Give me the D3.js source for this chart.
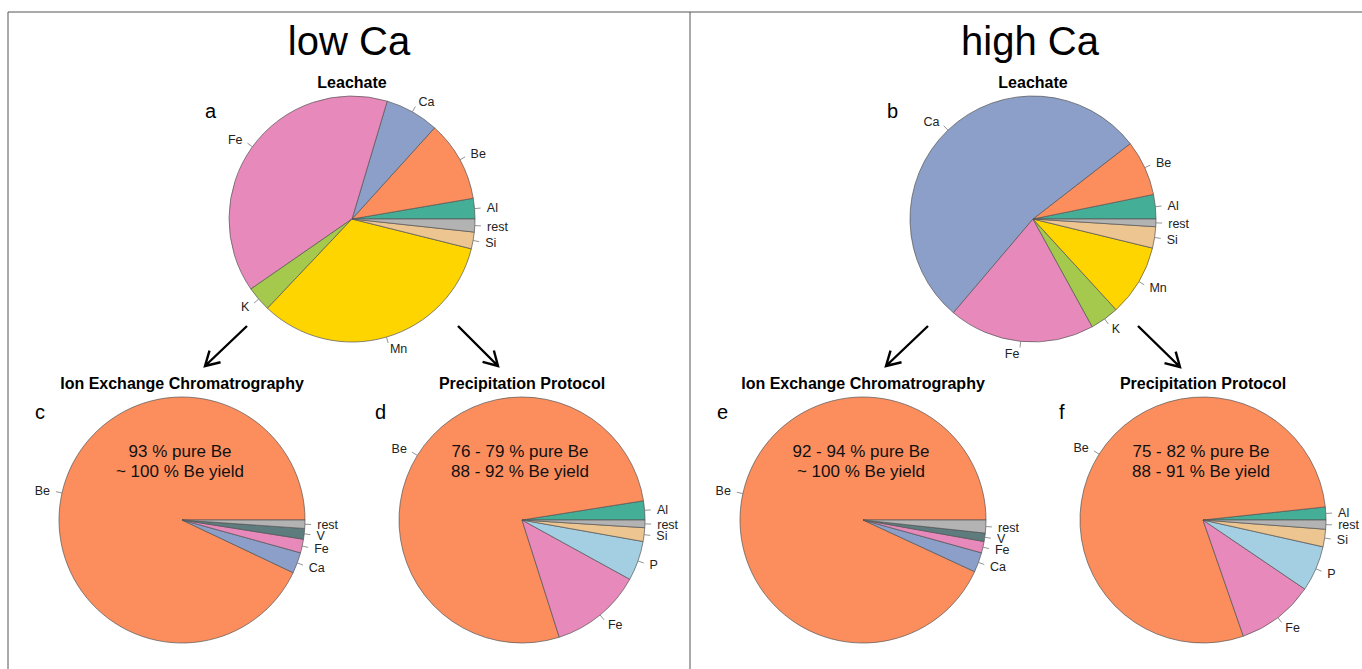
<!DOCTYPE html>
<html>
<head>
<meta charset="UTF-8">
<title>Be purification pies</title>
<script src="https://d3js.org/d3.v7.min.js"></script>
<style>
  body { margin: 0; background: #fff; }
  svg { font-family: "Liberation Sans", Arial, Helvetica, sans-serif; }
</style>
</head>
<body>
<svg width="1362" height="669"></svg>
<script type="text/javascript">
// element fractions (%), counter-clockwise from 3 o'clock
var leachLowLabels  = ["Al", "Be", "Ca", "Fe", "K", "Mn", "Si", "rest"];
var leachLowValues  = [2.7, 10.6, 7.1, 39.3, 3.3, 33.2, 2.2, 1.7];
var leachHighLabels = ["Al", "Be", "Ca", "Fe", "K", "Mn", "Si", "rest"];
var leachHighValues = [3.2, 7.3, 53.3, 19.2, 3.8, 9.4, 2.8, 1.0];
var ionLowLabels    = ["Be", "Ca", "Fe", "V", "rest"];
var ionLowValues    = [93.0, 2.75, 1.8, 1.4, 1.1];
var ionHighLabels   = ["Be", "Ca", "Fe", "V", "rest"];
var ionHighValues   = [93.1, 2.6, 1.5, 1.1, 1.7];
var precLowLabels   = ["Al", "Be", "Fe", "P", "Si", "rest"];
var precLowValues   = [2.5, 77.4, 12.1, 5.2, 1.8, 1.0];
var precHighLabels  = ["Al", "Be", "Fe", "P", "Si", "rest"];
var precHighValues  = [1.7, 78.7, 10.2, 6.0, 2.3, 1.2];

var colors = {
  "Al": "#45ae97", "Be": "#fc8e5e", "Ca": "#8b9fc8", "Fe": "#e889bb",
  "K": "#a4c94c", "Mn": "#ffd500", "Si": "#ecc591", "rest": "#b3b3b3",
  "V": "#5e7b7e", "P": "#a4cfe3"
};

var svg = d3.select("svg");
var R = 123;

// frame
svg.append("path")
  .attr("d", "M8,669 L8,12 L1362,12 M690,12 L690,669")
  .attr("fill", "none").attr("stroke", "#555").attr("stroke-width", 1);

function drawPie(cx, cy, labels, values, title, titleY, letter, lx, ly, notes)
{
  var g = svg.append("g").attr("transform", "translate(" + cx + "," + cy + ")");
  var data = labels.map(function(d, i) { return { label: d, value: values[i] }; });

  // R-style: start at 3 o'clock, go counter-clockwise
  var pie = d3.pie().sort(null).value(function(d) { return d.value; })
    .startAngle(Math.PI / 2).endAngle(Math.PI / 2 - 2 * Math.PI);
  var arc = d3.arc().innerRadius(0).outerRadius(R);
  var arcs = pie(data);

  g.selectAll("path.slice").data(arcs).enter()
    .append("path").classed("slice", true)
    .attr("d", arc)
    .attr("fill", function(d) { return colors[d.data.label]; })
    .attr("stroke", "#555").attr("stroke-width", 0.7);

  var mid = function(d) { return (d.startAngle + d.endAngle) / 2; };

  g.selectAll("line.tick").data(arcs).enter()
    .append("line").classed("tick", true)
    .attr("x1", function(d) { return Math.sin(mid(d)) * R; })
    .attr("y1", function(d) { return -Math.cos(mid(d)) * R; })
    .attr("x2", function(d) { return Math.sin(mid(d)) * R * 1.05; })
    .attr("y2", function(d) { return -Math.cos(mid(d)) * R * 1.05; })
    .attr("stroke", "#777").attr("stroke-width", 0.8);

  g.selectAll("text.lab").data(arcs).enter()
    .append("text").classed("lab", true)
    .attr("x", function(d) { return Math.sin(mid(d)) * R * 1.1; })
    .attr("y", function(d) { return -Math.cos(mid(d)) * R * 1.1; })
    .attr("dy", "0.35em")
    .attr("text-anchor", function(d) { return Math.sin(mid(d)) >= 0 ? "start" : "end"; })
    .attr("font-size", 12.5).attr("fill", "#222")
    .text(function(d) { return d.data.label; });

  svg.append("text")
    .attr("x", cx).attr("y", titleY)
    .attr("text-anchor", "middle").attr("font-weight", "bold").attr("font-size", 16)
    .text(title);

  svg.append("text")
    .attr("x", lx).attr("y", ly).attr("font-size", 20)
    .text(letter);

  if (notes)
  {
    notes.forEach(function(t, i)
    {
      g.append("text")
        .attr("x", -2).attr("y", -63 + i * 20)
        .attr("text-anchor", "middle").attr("font-size", 17).attr("fill", "#111")
        .text(t);
    });
  }
}

function arrow(x1, y1, x2, y2)
{
  var a = Math.atan2(y2 - y1, x2 - x1), L = 16, s = Math.PI / 6;
  svg.append("path")
    .attr("d", "M" + x1 + "," + y1 + " L" + x2 + "," + y2 +
      " M" + (x2 - L * Math.cos(a - s)) + "," + (y2 - L * Math.sin(a - s)) +
      " L" + x2 + "," + y2 +
      " L" + (x2 - L * Math.cos(a + s)) + "," + (y2 - L * Math.sin(a + s)))
    .attr("fill", "none").attr("stroke", "#000").attr("stroke-width", 2.4);
}

// headings
svg.append("text").attr("x", 349).attr("y", 55).attr("text-anchor", "middle")
  .attr("font-size", 40).text("low Ca");
svg.append("text").attr("x", 1030).attr("y", 55).attr("text-anchor", "middle")
  .attr("font-size", 40).text("high Ca");

drawPie(352, 219, leachLowLabels, leachLowValues, "Leachate", 88, "a", 205, 118, null);
drawPie(1033, 219, leachHighLabels, leachHighValues, "Leachate", 88, "b", 887, 118, null);
drawPie(182, 520, ionLowLabels, ionLowValues, "Ion Exchange Chromatrography", 389, "c", 35, 419,
  ["93 % pure Be", "~ 100 % Be yield"]);
drawPie(522, 520, precLowLabels, precLowValues, "Precipitation Protocol", 389, "d", 375, 419,
  ["76 - 79 % pure Be", "88 - 92 % Be yield"]);
drawPie(863, 520, ionHighLabels, ionHighValues, "Ion Exchange Chromatrography", 389, "e", 717, 419,
  ["92 - 94 % pure Be", "~ 100 % Be yield"]);
drawPie(1203, 520, precHighLabels, precHighValues, "Precipitation Protocol", 389, "f", 1059, 419,
  ["75 - 82 % pure Be", "88 - 91 % Be yield"]);

arrow(247, 326, 205, 366);
arrow(458, 326, 498, 366);
arrow(928, 326, 886, 366);
arrow(1138, 326, 1180, 367);
</script>
</body>
</html>
